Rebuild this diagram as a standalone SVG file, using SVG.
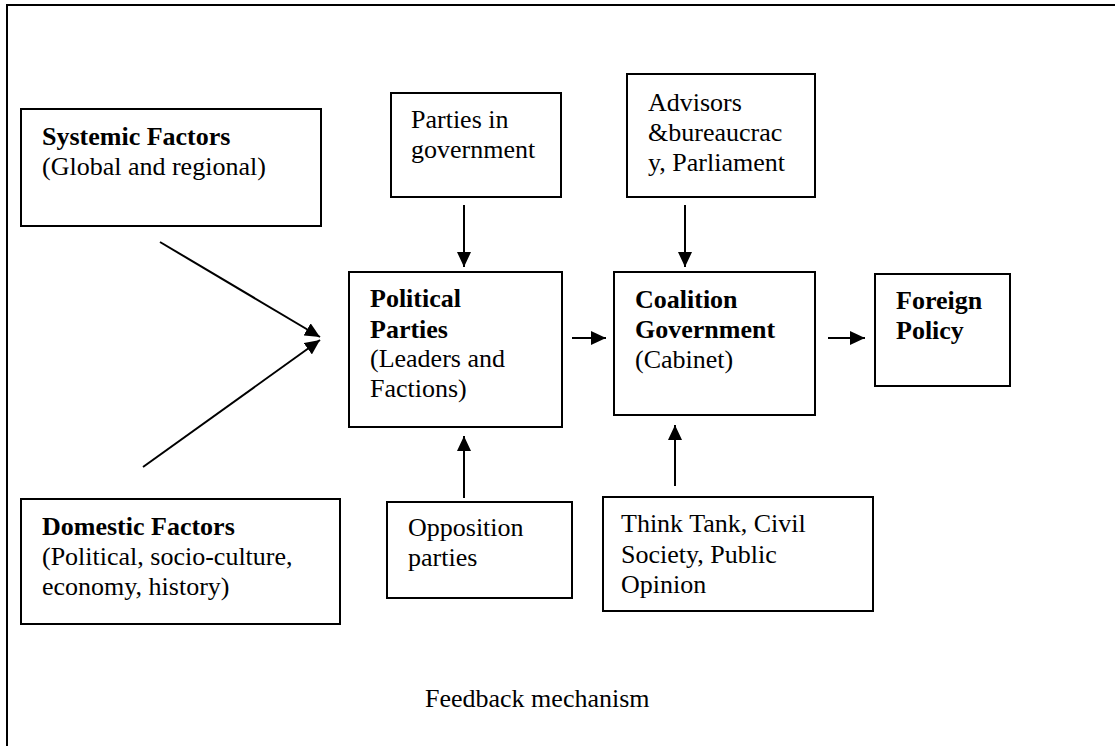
<svg xmlns="http://www.w3.org/2000/svg" width="1115" height="746" viewBox="0 0 1115 746">
<defs>
<style>
.box{fill:#fff;stroke:#000;stroke-width:2}
.t{font-family:"Liberation Serif","Times New Roman",serif;font-size:26px;fill:#000}
.b{font-weight:bold}
.c{stroke:#000;stroke-width:2;fill:none}
</style>
<marker id="ah" markerUnits="userSpaceOnUse" markerWidth="16" markerHeight="14" refX="15" refY="7" orient="auto">
<path d="M0,0 L15,7 L0,14 z" fill="#000"/>
</marker>
</defs>
<rect width="1115" height="746" fill="#fff"/>
<path d="M7,746 L7,5 L1115,5" fill="none" stroke="#000" stroke-width="2"/>

<g id="systemic">
<rect class="box" x="21" y="109" width="300" height="117"/>
<text class="t" x="42" y="145"><tspan class="b">Systemic Factors</tspan></text>
<text class="t" x="42" y="175">(Global and regional)</text>
</g>

<g id="domestic">
<rect class="box" x="21" y="499" width="319" height="125"/>
<text class="t b" x="42" y="535">Domestic Factors</text>
<text class="t" x="42" y="565">(Political, socio-culture,</text>
<text class="t" x="42" y="595">economy, history)</text>
</g>

<g id="parties-gov">
<rect class="box" x="391" y="93" width="170" height="104"/>
<text class="t" x="411" y="128">Parties in</text>
<text class="t" x="411" y="158">government</text>
</g>

<g id="advisors">
<rect class="box" x="627" y="74" width="188" height="123"/>
<text class="t" x="648" y="111">Advisors</text>
<text class="t" x="648" y="141">&amp;bureaucrac</text>
<text class="t" x="648" y="171">y, Parliament</text>
</g>

<g id="political">
<rect class="box" x="349" y="272" width="213" height="155"/>
<text class="t b" x="370" y="307">Political</text>
<text class="t b" x="370" y="338">Parties</text>
<text class="t" x="370" y="367">(Leaders and</text>
<text class="t" x="370" y="397">Factions)</text>
</g>

<g id="coalition">
<rect class="box" x="614" y="272" width="201" height="143"/>
<text class="t b" x="635" y="308">Coalition</text>
<text class="t b" x="635" y="338">Government</text>
<text class="t" x="635" y="368">(Cabinet)</text>
</g>

<g id="foreign">
<rect class="box" x="875" y="274" width="135" height="112"/>
<text class="t b" x="896" y="309">Foreign</text>
<text class="t b" x="896" y="339">Policy</text>
</g>

<g id="opposition">
<rect class="box" x="387" y="502" width="185" height="96"/>
<text class="t" x="408" y="536">Opposition</text>
<text class="t" x="408" y="566">parties</text>
</g>

<g id="thinktank">
<rect class="box" x="603" y="497" width="270" height="114"/>
<text class="t" x="621" y="532">Think Tank, Civil</text>
<text class="t" x="621" y="563">Society, Public</text>
<text class="t" x="621" y="593">Opinion</text>
</g>

<g id="connectors">
<line class="c" x1="160" y1="242" x2="320" y2="337" marker-end="url(#ah)"/>
<line class="c" x1="143" y1="467" x2="320" y2="340" marker-end="url(#ah)"/>
<line class="c" x1="464" y1="205" x2="464" y2="267" marker-end="url(#ah)"/>
<line class="c" x1="685" y1="205" x2="685" y2="267" marker-end="url(#ah)"/>
<line class="c" x1="572" y1="338" x2="606" y2="338" marker-end="url(#ah)"/>
<line class="c" x1="828" y1="338" x2="865" y2="338" marker-end="url(#ah)"/>
<line class="c" x1="464" y1="498" x2="464" y2="436" marker-end="url(#ah)"/>
<line class="c" x1="675" y1="486" x2="675" y2="425" marker-end="url(#ah)"/>
</g>

<text class="t" x="425" y="707">Feedback mechanism</text>
</svg>
